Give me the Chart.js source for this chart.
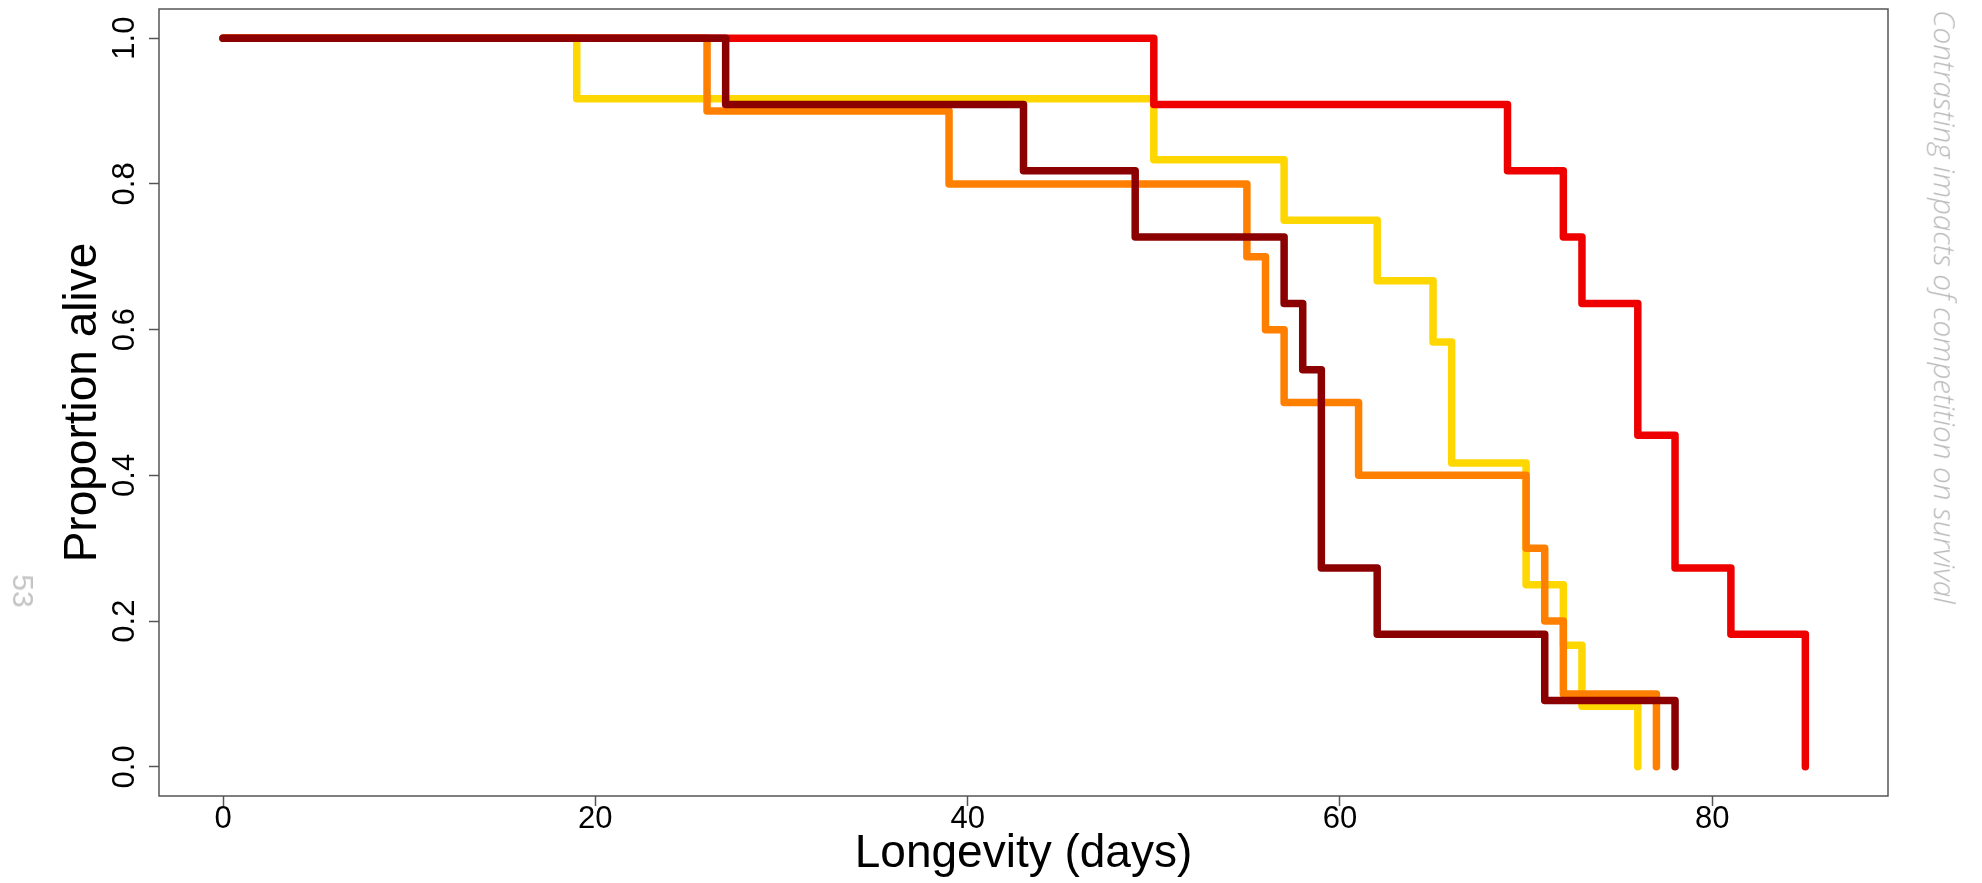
<!DOCTYPE html>
<html>
<head>
<meta charset="utf-8">
<script src="https://cdn.jsdelivr.net/npm/chart.js@4/dist/chart.umd.min.js"></script>
<style>
    body { margin: 0; background: #ffffff; }
    #contenitore { position: relative; width: 1982px; height: 883px; }
    #canvasSopravvivenza { position: absolute; left: 0; top: 0; }
    .laterale {
        position: absolute;
        white-space: nowrap;
        line-height: 1;
        transform: translate(-50%, -50%) rotate(90deg);
    }
    #numeroPagina {
        left: 23px; top: 591px;
        font-family: "Liberation Sans", Arial, sans-serif;
        font-size: 30px; color: #c4c4c4;
    }
    #titoloPagina {
        left: 1945px; top: 307px;
        font-family: "Open Sans", sans-serif;
        font-style: italic; font-weight: 300;
        font-size: 24px; color: #b8b8b8;
    }
</style>
</head>
<body>
<div id="contenitore">
    <canvas id="canvasSopravvivenza" width="1982" height="883"></canvas>
    <div id="numeroPagina" class="laterale">53</div>
    <div id="titoloPagina" class="laterale">Contrasting impacts of competition on survival</div>
</div>

<script>
"use strict";

// ============================================================
// DATI — curve di sopravvivenza (giorno del passo, proporzione dopo il passo)
// ============================================================
const giorniGiallo    = [0, 19, 50, 57, 62, 65, 66, 70, 72, 73, 76];
const sopravGiallo    = [1, 0.917, 0.833, 0.75, 0.667, 0.583, 0.417, 0.25, 0.167, 0.083, 0];

const giorniArancio   = [0, 26, 39, 55, 56, 57, 61, 70, 71, 72, 77];
const sopravArancio   = [1, 0.9, 0.8, 0.7, 0.6, 0.5, 0.4, 0.3, 0.2, 0.1, 0];

const giorniRosso     = [0, 50, 69, 72, 73, 76, 78, 81, 85];
const sopravRosso     = [1, 0.909, 0.818, 0.727, 0.636, 0.455, 0.273, 0.182, 0];

const giorniScuro     = [0, 27, 43, 49, 57, 58, 59, 62, 71, 78];
const sopravScuro     = [1, 0.909, 0.818, 0.727, 0.636, 0.545, 0.273, 0.182, 0.091, 0];

// tacche degli assi
const tackeX = [0, 20, 40, 60, 80];
const tackeY = [0, 0.2, 0.4, 0.6, 0.8, 1.0];

const GRIGIO_ASSI = "#555555";
const FONT_ASSI = "'Liberation Sans', Arial, sans-serif";

// unisce giorni e proporzioni in punti {x, y}
function creaPunti(giorni, valori) {
    let punti = [];
    for (let i = 0; i < giorni.length; i++)
        punti.push({ x: giorni[i], y: valori[i] });
    return punti;
}

// una curva a gradini (lo scalino avviene al giorno del punto)
function creaCurva(giorni, valori, colore) {
    return {
        data: creaPunti(giorni, valori),
        borderColor: colore,
        borderWidth: 7.5,
        borderCapStyle: "round",
        borderJoinStyle: "round",
        stepped: "before",
        pointRadius: 0,
        fill: false
    };
}

// ============================================================
// Plugin: riquadro attorno all'area del grafico (come box() di R)
// ============================================================
const pluginRiquadro = {
    id: "riquadro",
    beforeDatasetsDraw(chart) {
        let a = chart.chartArea;
        let ctx = chart.ctx;
        ctx.save();
        ctx.strokeStyle = GRIGIO_ASSI;
        ctx.lineWidth = 1.5;
        ctx.strokeRect(a.left, a.top, a.right - a.left, a.bottom - a.top);
        ctx.restore();
    }
};

// ============================================================
// creaGrafico()
// ============================================================
function creaGrafico() {
    let ctx = document.getElementById("canvasSopravvivenza");
    new Chart(ctx, {
        type: "line",
        data: {
            // il primo dataset viene disegnato per ultimo (sopra)
            datasets: [
                creaCurva(giorniScuro, sopravScuro, "#8b0000"),
                creaCurva(giorniRosso, sopravRosso, "#ee0000"),
                creaCurva(giorniArancio, sopravArancio, "#ff8000"),
                creaCurva(giorniGiallo, sopravGiallo, "#ffd700")
            ]
        },
        options: {
            responsive: false,
            animation: false,
            layout: { padding: { top: 9, right: 94, left: 0, bottom: 0 } },
            plugins: {
                legend: { display: false },
                tooltip: { enabled: false }
            },
            scales: {
                x: {
                    type: "linear",
                    min: -3.44,
                    max: 89.44,
                    afterBuildTicks: function (scala) {
                        scala.ticks = tackeX.map(v => ({ value: v }));
                    },
                    afterFit: function (scala) {
                        scala.height = 87;
                        scala.paddingLeft = 0;
                        scala.paddingRight = 0;
                    },
                    border: { display: false },
                    grid: {
                        drawOnChartArea: false,
                        drawTicks: true,
                        tickLength: 10,
                        tickColor: GRIGIO_ASSI,
                        tickWidth: 1.5
                    },
                    ticks: {
                        color: "#000000",
                        padding: -2,
                        font: { family: FONT_ASSI, size: 31, lineHeight: 1 },
                        callback: v => String(v)
                    },
                    title: {
                        display: true,
                        text: "Longevity (days)",
                        color: "#000000",
                        font: { family: FONT_ASSI, size: 46, lineHeight: 1.2 },
                        padding: { top: 0, bottom: 1 }
                    }
                },
                y: {
                    type: "linear",
                    min: -0.04,
                    max: 1.04,
                    afterBuildTicks: function (scala) {
                        scala.ticks = tackeY.map(v => ({ value: v }));
                    },
                    afterFit: function (scala) {
                        scala.width = 159;
                        scala.paddingTop = 0;
                        scala.paddingBottom = 0;
                    },
                    border: { display: false },
                    grid: {
                        drawOnChartArea: false,
                        drawTicks: true,
                        tickLength: 10,
                        tickColor: GRIGIO_ASSI,
                        tickWidth: 1.5
                    },
                    ticks: {
                        color: "#000000",
                        minRotation: 90,
                        maxRotation: 90,
                        crossAlign: "center",
                        padding: 2,
                        font: { family: FONT_ASSI, size: 31, lineHeight: 1 },
                        callback: v => v.toFixed(1)
                    },
                    title: {
                        display: true,
                        text: "Proportion alive",
                        color: "#000000",
                        font: { family: FONT_ASSI, size: 46, lineHeight: 1.2 },
                        padding: { top: 56, bottom: 0 }
                    }
                }
            }
        },
        plugins: [pluginRiquadro]
    });
}

// adatta la dimensione del titolo laterale alla lunghezza del riferimento
function adattaTitoloLaterale() {
    let div = document.getElementById("titoloPagina");
    let larghezza = div.getBoundingClientRect().height;
    if (larghezza > 0)
        div.style.fontSize = (24 * 594 / larghezza).toFixed(2) + "px";
}

creaGrafico();
adattaTitoloLaterale();
</script>
</body>
</html>
